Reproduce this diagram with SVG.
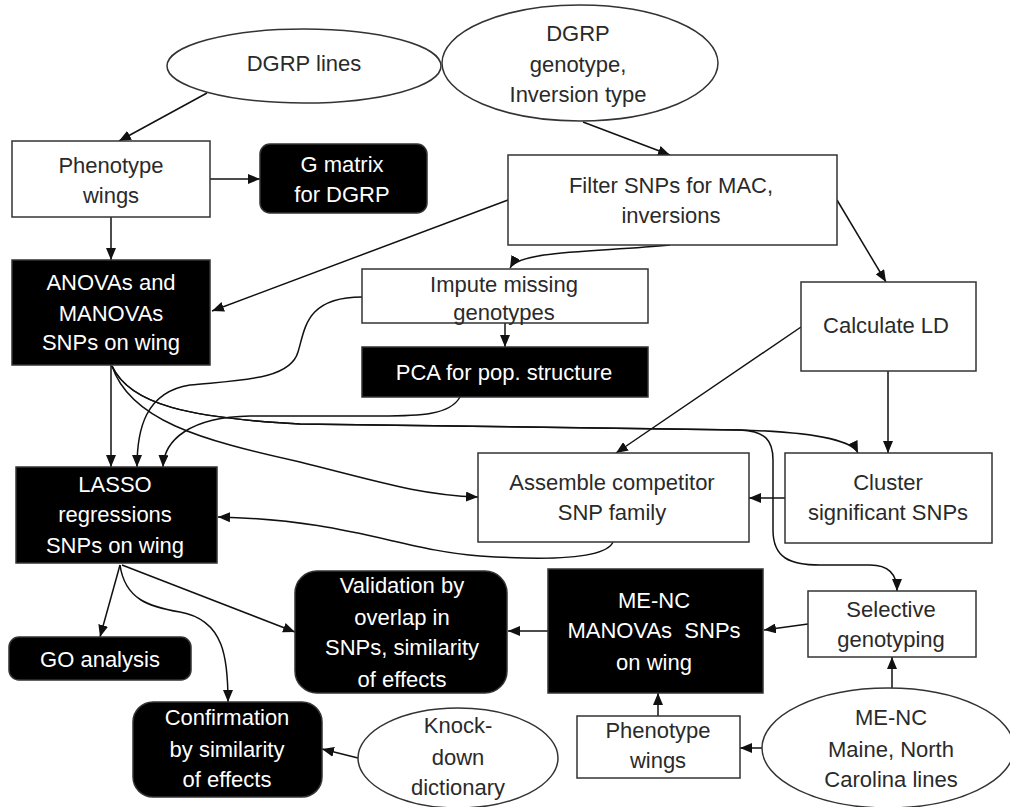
<svg xmlns="http://www.w3.org/2000/svg" width="1010" height="807" viewBox="0 0 1010 807">
<defs>
<marker id="arr" viewBox="0 0 12 10" refX="12" refY="5" markerWidth="12" markerHeight="10" markerUnits="userSpaceOnUse" orient="auto">
<path d="M0,0 L12,5 L0,10 Z" fill="#111"/>
</marker>
</defs>
<style>
.w{fill:#fff;stroke:#333;stroke-width:1.5}
.b{fill:#000;stroke:#333;stroke-width:1.5}
text{font-family:"Liberation Sans",Arial,sans-serif;font-size:22px;text-anchor:middle}
.tw text,text.tw{fill:#2a2a2a}
.tb text,text.tb{fill:#fff}
.c path{fill:none;stroke:#111;stroke-width:1.5;marker-end:url(#arr)}
</style>
<rect width="1010" height="807" fill="#fff"/>

<g class="c" id="connectors">
<path d="M207,93 L119,141"/>
<path d="M210,179 L260,179"/>
<path d="M111,217 L111,260"/>
<path d="M583,122 L670,155"/>
<path d="M508,200 L212,311"/>
<path d="M670,245 C600,252 520,250 510,268"/>
<path d="M837,200 L886,282"/>
<path d="M505,323 L505,347"/>
<path d="M362,297 C305,297 305,330 298,352 C290,380 240,380 190,385 C145,392 137,430 137,467"/>
<path d="M460,397 C450,415 420,416 380,416 L250,416 C190,417 164,440 163,467"/>
<path d="M111,365 L111,467"/>
<path d="M112,366 C130,405 190,418 300,424 L740,430 C810,432 852,440 858,453"/>
<path d="M112,366 C130,405 190,418 300,424 L740,430 C765,431 773,440 773,460 L773,530 C773,558 790,565 820,565 L870,565 C890,565 897,575 897,591"/>
<path d="M112,366 C130,420 200,440 300,462 C380,482 420,495 478,497"/>
<path d="M801,327 L616,453"/>
<path d="M888,371 L888,453"/>
<path d="M785,498 L749,498"/>
<path d="M613,542 C605,560 540,560 480,556 C400,550 350,520 218,517"/>
<path d="M120,565 L100,637"/>
<path d="M122,565 L295,632"/>
<path d="M120,565 C125,600 150,607 180,612 C225,620 228,660 228,702"/>
<path d="M358,758 L322,749"/>
<path d="M548,631 L508,631"/>
<path d="M808,624 L764,630"/>
<path d="M892,688 L892,657"/>
<path d="M762,748 L740,748"/>
<path d="M658,716 L658,693"/>
</g>

<g id="dgrp-lines" class="tw"><ellipse class="w" cx="304" cy="66" rx="137" ry="37"/><text x="304" y="71">DGRP lines</text></g>
<g id="dgrp-genotype" class="tw"><ellipse class="w" cx="580" cy="63" rx="138" ry="58"/><text x="578" y="41">DGRP</text><text x="578" y="72">genotype,</text><text x="578" y="102">Inversion type</text></g>
<g id="phenotype-wings" class="tw"><rect class="w" x="12" y="141" width="198" height="76"/><text x="111" y="173">Phenotype</text><text x="111" y="203">wings</text></g>
<g id="g-matrix" class="tb"><rect class="b" x="260" y="144" width="167" height="69" rx="10"/><text x="342" y="172">G matrix</text><text x="342" y="202">for DGRP</text></g>
<g id="filter-snps" class="tw"><rect class="w" x="508" y="155" width="329" height="90"/><text x="671" y="193">Filter SNPs for MAC,</text><text x="671" y="223">inversions</text></g>
<g id="anovas" class="tb"><rect class="b" x="12" y="260" width="198" height="105"/><text x="111" y="290">ANOVAs and</text><text x="111" y="321">MANOVAs</text><text x="111" y="350">SNPs on wing</text></g>
<g id="impute" class="tw"><rect class="w" x="362" y="269" width="286" height="54"/><text x="504" y="292">Impute missing</text><text x="504" y="320">genotypes</text></g>
<g id="pca" class="tb"><rect class="b" x="362" y="347" width="286" height="50"/><text x="504" y="380">PCA for pop. structure</text></g>
<g id="calculate-ld" class="tw"><rect class="w" x="801" y="282" width="175" height="89"/><text x="886" y="333">Calculate LD</text></g>
<g id="assemble" class="tw"><rect class="w" x="478" y="453" width="271" height="89"/><text x="612" y="490">Assemble competitor</text><text x="612" y="520">SNP family</text></g>
<g id="cluster" class="tw"><rect class="w" x="785" y="453" width="207" height="90"/><text x="888" y="490">Cluster</text><text x="888" y="520">significant SNPs</text></g>
<g id="lasso" class="tb"><rect class="b" x="16" y="467" width="201" height="96"/><text x="115" y="492">LASSO</text><text x="115" y="522">regressions</text><text x="115" y="553">SNPs on wing</text></g>
<g id="go-analysis" class="tb"><rect class="b" x="9" y="637" width="182" height="43" rx="10"/><text x="100" y="667">GO analysis</text></g>
<g id="validation" class="tb"><rect class="b" x="295" y="571" width="212" height="122" rx="22"/><text x="402" y="593">Validation by</text><text x="402" y="625">overlap in</text><text x="402" y="655">SNPs, similarity</text><text x="402" y="687">of effects</text></g>
<g id="menc-manovas" class="tb"><rect class="b" x="548" y="569" width="215" height="124"/><text x="654" y="608">ME-NC</text><text x="654" y="638" xml:space="preserve">MANOVAs  SNPs</text><text x="654" y="670">on wing</text></g>
<g id="selective" class="tw"><rect class="w" x="808" y="591" width="168" height="66"/><text x="891" y="617">Selective</text><text x="891" y="647">genotyping</text></g>
<g id="phenotype-wings-2" class="tw"><rect class="w" x="577" y="716" width="163" height="62"/><text x="658" y="738">Phenotype</text><text x="658" y="768">wings</text></g>
<g id="menc-lines" class="tw"><ellipse class="w" cx="888" cy="748" rx="126" ry="60"/><text x="891" y="725">ME-NC</text><text x="891" y="757">Maine, North</text><text x="891" y="787">Carolina lines</text></g>
<g id="confirmation" class="tb"><rect class="b" x="133" y="702" width="189" height="95" rx="20"/><text x="227" y="725">Confirmation</text><text x="227" y="757">by similarity</text><text x="227" y="787">of effects</text></g>
<g id="knockdown" class="tw"><ellipse class="w" cx="458" cy="758" rx="100" ry="50"/><text x="458" y="733">Knock-</text><text x="458" y="765">down</text><text x="458" y="795">dictionary</text></g>
</svg>
